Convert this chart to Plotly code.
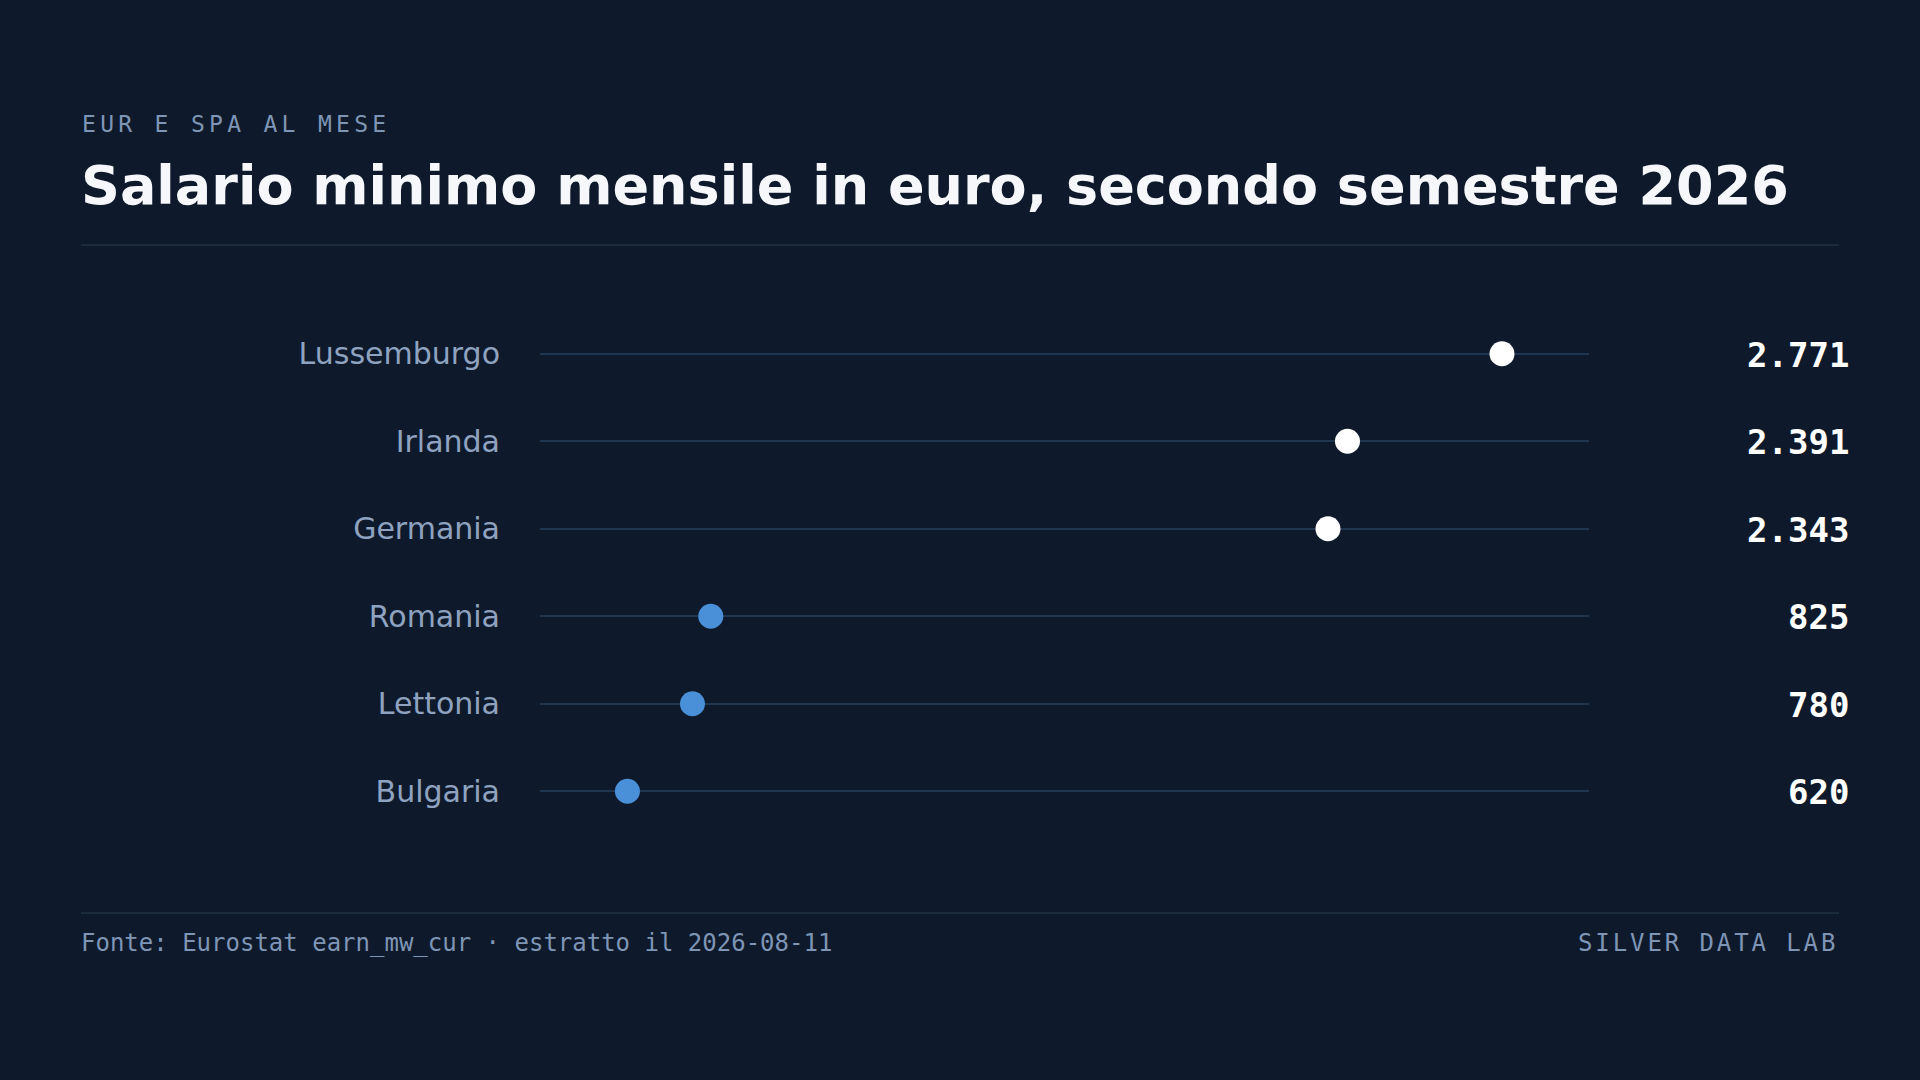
import plotly.graph_objects as go

# salario minimo mensile, EUR (secondo semestre 2026)
paesi = ["Lussemburgo", "Irlanda", "Germania", "Romania", "Lettonia", "Bulgaria"]
salari = [2771, 2391, 2343, 825, 780, 620]

bg = "#0e1a2b"
bianco = "#ffffff"
blu = "#4a90d9"
griglia = "#1f3550"
regola = "#1b2a3d"
etichette = "#8fa3c0"
tenue = "#7f95b5"

W, H = 1920, 1080
L, R, T, B = 540, 1589, 310, 835  # area del grafico in pixel


def px(x):
    return (x - L) / (R - L)


def py(y):
    return (B - y) / (B - T)


colori = [bianco if v >= 2000 else blu for v in salari]
testi = [f"{v:,}".replace(",", ".") for v in salari]

fig = go.Figure()
fig.add_trace(go.Scatter(
    x=salari, y=paesi, mode="markers",
    marker=dict(size=25, color=colori, line=dict(width=0)),
    hoverinfo="skip", showlegend=False,
))

annots = []
for p, t in zip(paesi, testi):
    annots.append(dict(
        x=px(1851), xref="paper", y=p, yref="y", yshift=-1, text=t, showarrow=False,
        xanchor="right", yanchor="middle",
        font=dict(family="DejaVu Sans Mono", size=34, color=bianco, weight="bold"),
    ))

annots += [
    dict(x=px(80), y=py(124), xref="paper", yref="paper", showarrow=False,
         xanchor="left", yanchor="middle",
         text='<span style="letter-spacing:4.3px">EUR E SPA AL MESE</span>',
         font=dict(family="DejaVu Sans Mono", size=23, color=tenue)),
    dict(x=px(79), y=py(186), xref="paper", yref="paper", showarrow=False,
         xanchor="left", yanchor="middle",
         text="Salario minimo mensile in euro, secondo semestre 2026",
         font=dict(family="DejaVu Sans", size=54, color="#f5f7fa", weight="bold")),
    dict(x=px(79), y=py(943), xref="paper", yref="paper", showarrow=False,
         xanchor="left", yanchor="middle",
         text="Fonte: Eurostat earn_mw_cur · estratto il 2026-08-11",
         font=dict(family="DejaVu Sans Mono", size=24, color=tenue)),
    dict(x=px(1840), y=py(943), xref="paper", yref="paper", showarrow=False,
         xanchor="right", yanchor="middle",
         text='<span style="letter-spacing:2.9px">SILVER DATA LAB</span>',
         font=dict(family="DejaVu Sans Mono", size=24, color=tenue)),
]

shapes = [
    dict(type="line", xref="paper", yref="paper", x0=px(81), x1=px(1839),
         y0=py(245), y1=py(245), line=dict(color=regola, width=2)),
    dict(type="line", xref="paper", yref="paper", x0=px(81), x1=px(1839),
         y0=py(913), y1=py(913), line=dict(color=regola, width=2)),
]

fig.update_layout(
    width=W, height=H,
    paper_bgcolor=bg, plot_bgcolor=bg,
    margin=dict(l=L, r=W - R, t=T, b=H - B, pad=0),
    annotations=annots, shapes=shapes,
    xaxis=dict(range=[405, 2985], showgrid=False, zeroline=False,
               showticklabels=False, fixedrange=True),
    yaxis=dict(categoryorder="array", categoryarray=paesi[::-1],
               range=[-0.5, 5.5], showgrid=True, gridcolor=griglia, gridwidth=1.5,
               zeroline=False, ticks="", ticklabelstandoff=39,
               tickfont=dict(family="DejaVu Sans", size=30, color=etichette),
               fixedrange=True),
    font=dict(family="DejaVu Sans"),
)

fig.write_html(
    "out.html",
    config={"displayModeBar": False},
    post_script="document.body.style.margin='0';document.body.style.background='%s';" % bg,
)
